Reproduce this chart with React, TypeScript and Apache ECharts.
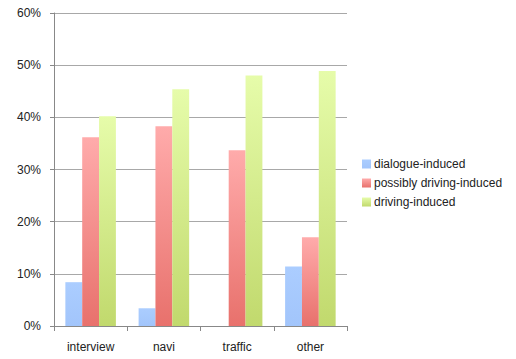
import React, { useEffect, useRef } from "react";
import * as echarts from "echarts";

const categories = ["interview", "navi", "traffic", "other"];
const dialogueInduced = [8.4, 3.4, 0, 11.4];
const possiblyDrivingInduced = [36.2, 38.3, 33.7, 17.0];
const drivingInduced = [40.2, 45.4, 48.0, 48.9];
const seriesNames = ["dialogue-induced", "possibly driving-induced", "driving-induced"];

const FONT = "'Liberation Sans', Arial, sans-serif";

export default function App() {
  const ref = useRef<HTMLDivElement>(null);
  useEffect(() => {
    if (!ref.current) return;
    const chart = echarts.init(ref.current, null, { renderer: "svg" });
    const grad = (a: string, b: string) =>
      new echarts.graphic.LinearGradient(0, 0, 0, 1, [
        { offset: 0, color: a },
        { offset: 1, color: b },
      ]);
    chart.setOption({
      animation: false,
      backgroundColor: "#ffffff",
      textStyle: { fontFamily: FONT },
      grid: { left: 54, top: 13, right: 169, bottom: 33 },
      legend: {
        orient: "vertical",
        left: 357,
        top: 153,
        icon: "rect",
        itemWidth: 9,
        itemHeight: 9,
        itemGap: 7,
        textStyle: { fontSize: 12, color: "#222", fontFamily: FONT, padding: [0, 0, 0, -2] },
        data: seriesNames,
      },
      xAxis: {
        type: "category",
        data: categories,
        axisLine: { lineStyle: { color: "#888" } },
        axisTick: { show: true, length: 5, lineStyle: { color: "#888" } },
        axisLabel: { color: "#222", fontSize: 12, margin: 15, fontFamily: FONT },
      },
      yAxis: {
        type: "value",
        min: 0,
        max: 60,
        interval: 10,
        axisLine: { show: true, lineStyle: { color: "#888" } },
        axisTick: { show: true, length: 4, lineStyle: { color: "#888" } },
        axisLabel: { color: "#222", fontSize: 12, margin: 13, formatter: "{value}%", fontFamily: FONT },
        splitLine: { lineStyle: { color: "#a8a8a8" } },
      },
      series: [
        {
          name: seriesNames[0],
          type: "bar",
          data: dialogueInduced,
          barGap: "0%",
          barCategoryGap: "31%",
          itemStyle: { color: grad("#abcdff", "#a2c5fb") },
        },
        {
          name: seriesNames[1],
          type: "bar",
          data: possiblyDrivingInduced,
          itemStyle: { color: grad("#ffabab", "#e8716c") },
        },
        {
          name: seriesNames[2],
          type: "bar",
          data: drivingInduced,
          itemStyle: { color: grad("#e6fcaa", "#c1d96d") },
        },
      ],
    });
    return () => chart.dispose();
  }, []);
  return (
    <div
      ref={ref}
      style={{ position: "fixed", left: 0, top: 0, width: 516, height: 359 }}
    />
  );
}
